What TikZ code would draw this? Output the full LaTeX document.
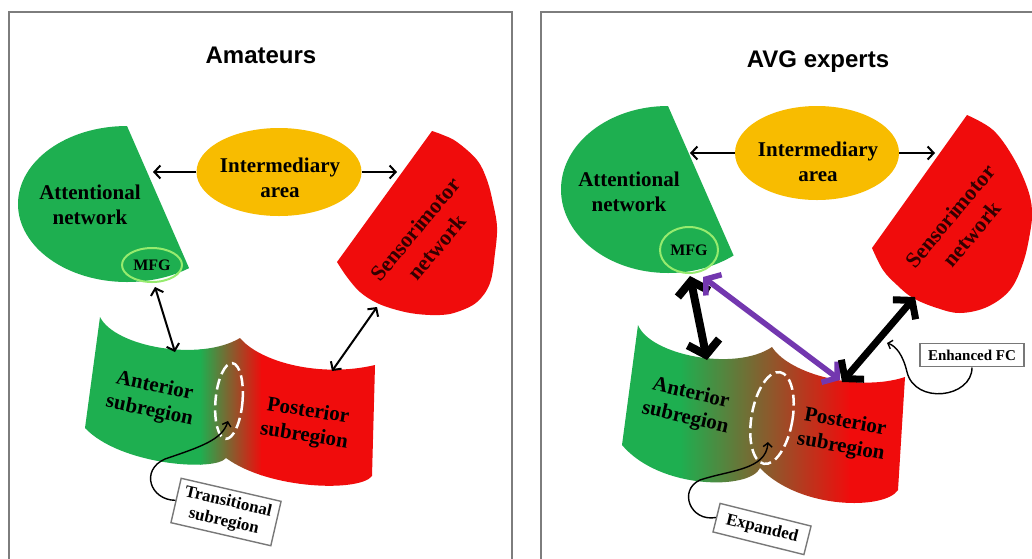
\documentclass[tikz,border=0pt]{standalone}
\usepackage{fontspec}
\setmainfont{Liberation Serif}
\newfontfamily\titlefont{Liberation Sans}
\usetikzlibrary{shapes.geometric,arrows.meta}
\definecolor{antgreen}{RGB}{30,175,80}
\definecolor{senred}{RGB}{240,12,12}
\definecolor{intyellow}{RGB}{248,188,0}
\definecolor{mfgring}{RGB}{150,235,110}
\definecolor{trbrown}{RGB}{125,95,45}
\definecolor{fcpurple}{RGB}{115,55,175}
\definecolor{framegray}{RGB}{125,125,125}
\definecolor{boxgray}{RGB}{120,120,120}
\definecolor{sentext}{RGB}{50,0,0}
\begin{document}
\begin{tikzpicture}[x=1pt,y=-1pt,
  lbl/.style={font=\fontsize{21}{25}\selectfont\bfseries, align=center, inner sep=0pt},
  ttl/.style={font=\titlefont\fontsize{24}{28}\selectfont\bfseries, inner sep=0pt},
  onearr/.style={line width=2pt, -{Straight Barb[length=6pt,width=13pt]}},
  twoarr/.style={line width=2pt, {Straight Barb[length=6pt,width=13pt]}-{Straight Barb[length=6pt,width=13pt]}},
  callarr/.style={line width=1.4pt, -{Straight Barb[length=4pt,width=9pt]}},
  callbox/.style={draw=boxgray, line width=1.4pt, fill=white, align=center},
  mfgbox/.style={draw=mfgring, line width=2pt, ellipse, inner sep=0pt, font=\fontsize{16}{18}\selectfont\bfseries},
  transring/.style={draw=white, line width=2.5pt, dash pattern=on 11pt off 5pt, ellipse, inner sep=0pt},
  interell/.style={ellipse, fill=intyellow, inner sep=0pt}
]
\useasboundingbox (0,0) rectangle (1032,558);
\fill[white] (0,0) rectangle (1032,558);

% frames
\draw[framegray, line width=2pt] (9,565) -- (9,12) -- (512,12) -- (512,565);
\draw[framegray, line width=2pt] (541,565) -- (541,12) -- (1045,12);

% titles
\node[ttl] (ttlA) at (261,55) {Amateurs};
\node[ttl] (ttlB) at (818,62) {AVG experts};

% ===================== LEFT PANEL =====================
% attentional network
\fill[antgreen] (127,126) arc[start angle=270, end angle=55.3, x radius=109, y radius=78] -- cycle;
% sensorimotor network
\fill[senred] plot[smooth, tension=0.6] coordinates {(337,262) (347,277) (360,292) (377,303) (397,310) (417,314) (440,315) (457,312) (477,302) (490,283) (495,253) (497,227) (493,203) (487,180) (477,160) (457,142) (443,135) (432,131)} -- cycle;
% intermediary area
\node[interell, minimum width=165pt, minimum height=88pt] (intL) at (279,172) {};
\node[lbl] (intLt) at (280,178) {Intermediary\\area};
% sheets
\begin{scope}
\clip (100,317) .. controls (115,347) and (200,362) .. (240,338) .. controls (260,362) and (320,378) .. (375,365) -- (372,476) .. controls (360,492) and (270,490) .. (226,458) .. controls (215,472) and (120,465) .. (85,428) -- cycle;
\fill[antgreen] (70,300) rectangle (201,500);
\shade[left color=antgreen, middle color=trbrown, right color=senred] (200,300) rectangle (262,500);
\fill[senred] (261,300) rectangle (390,500);
\end{scope}
\node[transring, minimum width=27pt, minimum height=76pt, rotate=-5] (trL) at (229,401) {};
% labels
\node[lbl] (attL) at (90,205) {Attentional\\network};
\node[mfgbox, minimum width=60pt, minimum height=34pt] (mfgL) at (152,265) {MFG};
\node[lbl, text=sentext, font=\fontsize{22}{28}\selectfont\bfseries, rotate=50] (senL) at (426,238) {Sensorimotor\\network};
\node[lbl, rotate=-12] (antL) at (152,399) {Anterior\\subregion};
\node[lbl, rotate=-9] (posL) at (306,424) {Posterior\\subregion};
% arrows
\coordinate (aLa) at (153,172);
\coordinate (aLr) at (397,172);
\draw[onearr] (intL.west) -- (aLa);
\draw[onearr] (intL.east) -- (aLr);
\coordinate (mL1) at (155,287);
\coordinate (aL1) at (175,352);
\draw[twoarr] (mL1) -- (aL1);
\coordinate (sL1) at (377,307);
\coordinate (pL1) at (332,371);
\draw[twoarr] (sL1) -- (pL1);
% callout
\node[callbox, rotate=-13, font=\fontsize{17}{20}\selectfont\bfseries, inner xsep=7pt, inner ysep=5pt] (trbox) at (226,512) {Transitional\\subregion};
\coordinate (trtip) at (228,421);
\draw[callarr] (trbox.west) .. controls (150,500) and (140,470) .. (165,459) .. controls (200,447) and (222,440) .. (trtip);

% ===================== RIGHT PANEL =====================
\fill[antgreen] (668,106) arc[start angle=270, end angle=52.2, x radius=107, y radius=83.5] -- cycle;
\fill[senred] plot[smooth, tension=0.6] coordinates {(872,248) (883,270) (897,285) (913,298) (937,308) (960,313) (987,307) (1010,290) (1023,263) (1030,233) (1032,210) (1027,187) (1013,157) (993,130) (967,115)} -- cycle;
\node[interell, minimum width=164pt, minimum height=94pt] (intR) at (817,153) {};
\node[lbl] (intRt) at (818,162) {Intermediary\\area};
\begin{scope}
\clip (638,325) .. controls (650,355) and (735,372) .. (772,347) .. controls (790,375) and (860,392) .. (905,377) -- (898,490) .. controls (885,510) and (800,510) .. (760,468) .. controls (750,490) and (660,490) .. (622,445) -- cycle;
\fill[antgreen] (600,300) rectangle (681,520);
\shade[left color=antgreen, middle color=trbrown, right color=senred] (680,300) rectangle (850,520);
\fill[senred] (849,300) rectangle (920,520);
\end{scope}
\node[transring, minimum width=41pt, minimum height=93pt, rotate=-10] (trR) at (772,418) {};
\node[lbl] (attR) at (629,192) {Attentional\\network};
\node[mfgbox, minimum width=58pt, minimum height=46pt] (mfgR) at (689,250) {MFG};
\node[lbl, text=sentext, font=\fontsize{22}{28}\selectfont\bfseries, rotate=50] (senR) at (961,225) {Sensorimotor\\network};
\node[lbl, rotate=-13] (antR) at (688,406) {Anterior\\subregion};
\node[lbl, rotate=-10] (posR) at (843,435) {Posterior\\subregion};
% arrows
\coordinate (aRa) at (690,153);
\coordinate (aRr) at (935,153);
\draw[onearr] (intR.west) -- (aRa);
\draw[onearr] (intR.east) -- (aRr);
\coordinate (mR1) at (690,276);
\coordinate (aR1) at (707,360);
\draw[line width=8pt, {Straight Barb[length=13pt,width=32pt]}-{Straight Barb[length=13pt,width=32pt]}] (mR1) -- (aR1);
\coordinate (mR2) at (703,277);
\coordinate (pR2) at (840,380);
\draw[fcpurple, line width=5.5pt, {Straight Barb[length=10pt,width=26pt]}-{Straight Barb[length=10pt,width=26pt]}] (mR2) -- (pR2);
\coordinate (sR1) at (915,297);
\coordinate (pR1) at (842,382);
\draw[line width=7pt, {Straight Barb[length=12pt,width=30pt]}-{Straight Barb[length=12pt,width=30pt]}] (sR1) -- (pR1);
% callouts
\node[callbox, rotate=-14, font=\fontsize{17}{20}\selectfont\bfseries, inner xsep=10pt, inner ysep=7pt] (exbox) at (762,529) {Expanded};
\coordinate (extip) at (768,442);
\draw[callarr] (exbox.west) .. controls (690,522) and (678,490) .. (700,480) .. controls (730,470) and (766,470) .. (extip);
\node[callbox, font=\fontsize{15}{18}\selectfont\bfseries, inner xsep=8pt, inner ysep=6.5pt] (fcbox) at (972,355) {Enhanced FC};
\coordinate (fctip) at (887,343);
\draw[callarr] (fcbox.south) .. controls (972,398) and (915,405) .. (907,372) .. controls (903,355) and (896,346) .. (fctip);
\end{tikzpicture}
\end{document}
